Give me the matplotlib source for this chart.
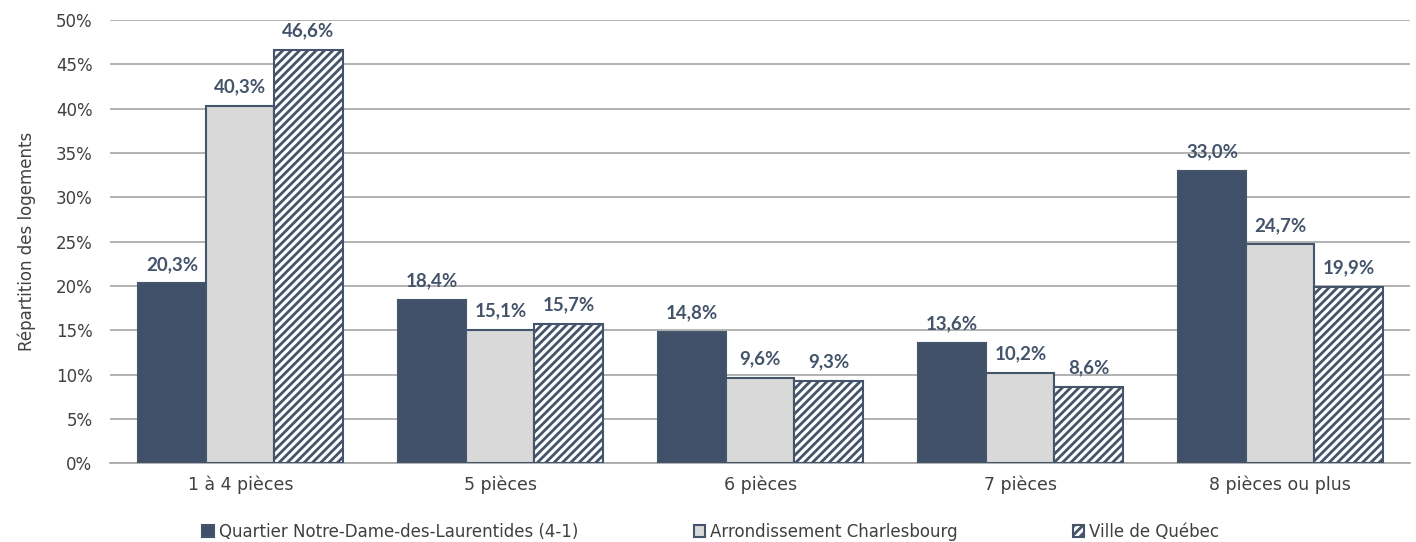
import numpy as np
import matplotlib
matplotlib.use("Agg")
import matplotlib.pyplot as plt
from matplotlib.ticker import PercentFormatter

plt.rcParams['font.family'] = ['DejaVu Sans']
plt.rcParams['hatch.linewidth'] = 2.0

categories = ["1 à 4 pièces", "5 pièces", "6 pièces", "7 pièces", "8 pièces ou plus"]
series_names = ["Quartier Notre-Dame-des-Laurentides (4-1)", "Arrondissement Charlesbourg", "Ville de Québec"]
quartier = [20.3, 18.4, 14.8, 13.6, 33.0]
arrondissement = [40.3, 15.1, 9.6, 10.2, 24.7]
ville = [46.6, 15.7, 9.3, 8.6, 19.9]

edge = "#44546A"
fig, ax = plt.subplots(figsize=(14.16, 5.42), dpi=100)
fig.subplots_adjust(left=0.078, right=0.996, top=0.963, bottom=0.145)

x = np.arange(len(categories))
w = 0.262
styles = [dict(color="#3F5068", hatch=None),
          dict(color="#D9D9D9", hatch=None),
          dict(color="white", hatch="////")]
for i, (vals, st) in enumerate(zip([quartier, arrondissement, ville], styles)):
    bars = ax.bar(x + (i - 1) * w, vals, w, color=st["color"], edgecolor=edge,
                  hatch=st["hatch"], linewidth=1.5, label=series_names[i], zorder=3)
    for b, v in zip(bars, vals):
        ax.text(b.get_x() + b.get_width() / 2, v + 1.2, f"{v:.1f}%".replace(".", ","),
                ha="center", va="bottom", fontsize=13.5, fontweight="bold", color=edge,
                family="Lato")

ax.set_ylim(0, 50)
ax.set_xlim(-0.5, 4.5)
ax.set_yticks(np.arange(0, 51, 5))
ax.yaxis.set_major_formatter(PercentFormatter(decimals=0))
ax.grid(axis="y", color="#A6A6A6", linewidth=1.2, zorder=0)
ax.set_xticks(x)
ax.set_xticklabels(categories)
ax.tick_params(axis="x", length=0, labelsize=12.5, colors="#404040", pad=9)
ax.tick_params(axis="y", length=0, labelsize=12, colors="#404040", pad=13)
for s in ["left", "right", "top"]:
    ax.spines[s].set_visible(False)
ax.spines["bottom"].set_color("#A6A6A6")
ax.spines["bottom"].set_linewidth(1.2)
ax.set_ylabel("Répartition des logements", fontsize=12, color="#404040", labelpad=14)

ax.legend(loc="upper center", bbox_to_anchor=(0.462, -0.1), ncol=3, frameon=False,
          fontsize=12, handlelength=0.7, handleheight=0.8, handletextpad=0.3,
          columnspacing=6.9, labelcolor="#404040")

fig.savefig("out.png", dpi=100)
